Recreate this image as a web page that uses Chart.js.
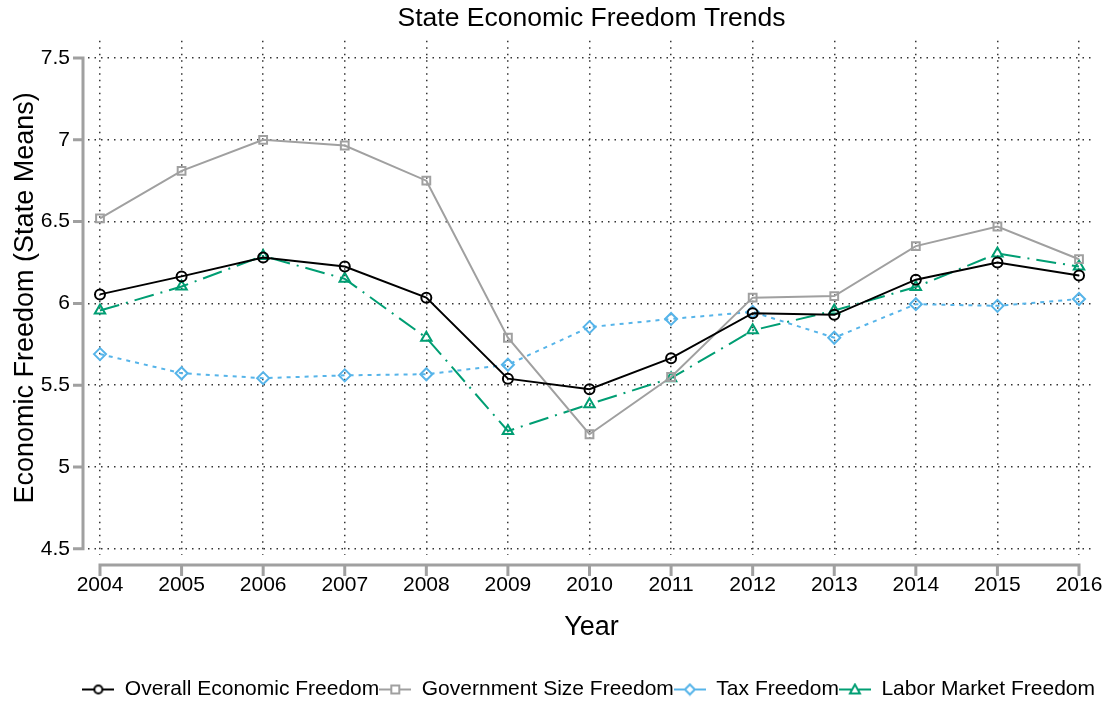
<!DOCTYPE html>
<html>
<head>
<meta charset="utf-8">
<script src="https://cdn.jsdelivr.net/npm/chart.js@4/dist/chart.umd.min.js"></script>
<style>
  html, body { margin: 0; padding: 0; background: #fff; }
  #wrap { width: 1114px; height: 704px; }
</style>
</head>
<body>
<div id="wrap"><canvas id="trend-chart" width="1114" height="704"></canvas></div>
<script>
const years = [2004, 2005, 2006, 2007, 2008, 2009, 2010, 2011, 2012, 2013, 2014, 2015, 2016];
const overall = [6.055, 6.165, 6.28, 6.225, 6.035, 5.54, 5.475, 5.665, 5.94, 5.93, 6.145, 6.25, 6.17];
const govSize = [6.52, 6.81, 7.0, 6.965, 6.75, 5.79, 5.2, 5.55, 6.035, 6.045, 6.35, 6.47, 6.27];
const tax = [5.69, 5.573, 5.543, 5.56, 5.567, 5.625, 5.855, 5.905, 5.948, 5.79, 5.995, 5.985, 6.027];
const labor = [5.956, 6.103, 6.29, 6.15, 5.79, 5.22, 5.384, 5.543, 5.835, 5.956, 6.1, 6.305, 6.225];
const yTicks = [4.5, 5, 5.5, 6, 6.5, 7, 7.5];
const seriesNames = ['Overall Economic Freedom', 'Government Size Freedom', 'Tax Freedom', 'Labor Market Freedom'];

const FONT = 'Liberation Sans, Arial, sans-serif';
const axisGray = '#a0a0a0';

function pts(vals) {
  return years.map((y, i) => ({ x: y, y: vals[i] }));
}

const styles = [
  { color: '#000000', dash: [], marker: 'circle', r: 5 },
  { color: '#a0a0a0', dash: [], marker: 'rect', r: 5.5 },
  { color: '#56b4e9', dash: [4, 5], marker: 'rectRot', r: 6 },
  { color: '#009e73', dash: [20, 7, 2, 7], marker: 'triangle', r: 6 }
];

// small line+marker pictures for the legend
function legendIcon(st) {
  const c = document.createElement('canvas');
  c.width = 32; c.height = 14;
  const g = c.getContext('2d');
  g.strokeStyle = st.color;
  g.lineWidth = 2;
  g.beginPath(); g.moveTo(0, 7); g.lineTo(32, 7); g.stroke();
  g.fillStyle = '#fff';
  g.beginPath();
  if (st.marker === 'circle') g.arc(16, 7, 4, 0, Math.PI * 2);
  else if (st.marker === 'rect') g.rect(12, 3, 8, 8);
  else if (st.marker === 'rectRot') { g.moveTo(16, 2); g.lineTo(21, 7); g.lineTo(16, 12); g.lineTo(11, 7); g.closePath(); }
  else { g.moveTo(16, 2); g.lineTo(21, 11); g.lineTo(11, 11); g.closePath(); }
  g.fill(); g.stroke();
  return c;
}
const icons = styles.map(legendIcon);

const datasets = [overall, govSize, tax, labor].map((vals, i) => ({
  label: seriesNames[i],
  data: pts(vals),
  borderColor: styles[i].color,
  backgroundColor: '#ffffff',
  borderWidth: 2,
  borderDash: styles[i].dash,
  pointStyle: styles[i].marker,
  pointRadius: styles[i].r,
  pointBorderWidth: 2,
  pointBackgroundColor: 'rgba(255,255,255,0)',
  pointBorderColor: styles[i].color,
  tension: 0
}));

// Stata style axes, drawn a little away from the plot area
const offsetAxes = {
  id: 'offsetAxes',
  afterDraw(chart) {
    const { ctx, chartArea, scales: { x, y } } = chart;
    ctx.save();
    ctx.strokeStyle = axisGray;
    ctx.lineWidth = 3;
    ctx.lineCap = 'butt';
    const ax = chartArea.left - 5;
    ctx.beginPath();
    ctx.moveTo(ax, y.getPixelForValue(4.5));
    ctx.lineTo(ax, y.getPixelForValue(7.5));
    yTicks.forEach(v => {
      const py = y.getPixelForValue(v);
      ctx.moveTo(ax + 1.5, py);
      ctx.lineTo(ax - 10, py);
    });
    ctx.stroke();
    const ay = chartArea.bottom + 10;
    ctx.beginPath();
    ctx.moveTo(x.getPixelForValue(years[0]), ay);
    ctx.lineTo(x.getPixelForValue(years[years.length - 1]), ay);
    years.forEach(v => {
      const px = x.getPixelForValue(v);
      ctx.moveTo(px, ay - 1.5);
      ctx.lineTo(px, ay + 11);
    });
    ctx.stroke();
    ctx.restore();
  }
};

const gridOpts = { color: '#333', lineWidth: 1.5, drawTicks: false };
const borderOpts = { display: false, dash: [1.5, 5] };

const ctx = document.getElementById('trend-chart').getContext('2d');
const trendChart = new Chart(ctx, {
  type: 'line',
  data: { datasets: datasets },
  options: {
    responsive: false,
    animation: false,
    layout: { padding: { left: 4, right: 19, top: 0, bottom: -6 } },
    plugins: {
      title: {
        display: true,
        fullSize: false,
        text: 'State Economic Freedom Trends',
        color: '#000',
        font: { family: FONT, size: 26.5, weight: 'normal' },
        padding: { top: 3, bottom: 6 }
      },
      legend: {
        position: 'bottom',
        align: 'end',
        labels: {
          color: '#000',
          font: { family: FONT, size: 21 },
          usePointStyle: true,
          pointStyleWidth: 32,
          boxHeight: 14,
          padding: 0,
          generateLabels(chart) {
            const items = Chart.defaults.plugins.legend.labels.generateLabels(chart);
            items.forEach((it, i) => { it.pointStyle = icons[i]; });
            return items;
          }
        }
      },
      tooltip: { enabled: false }
    },
    scales: {
      x: {
        type: 'linear',
        min: 2003.853,
        max: 2016.196,
        afterBuildTicks(scale) { scale.ticks = years.map(v => ({ value: v })); },
        afterFit(scale) {
          scale.height = 124;
          scale.paddingLeft = 0;
          scale.paddingRight = 0;
        },
        grid: gridOpts,
        border: borderOpts,
        ticks: {
          color: '#000',
          font: { family: FONT, size: 21 },
          padding: 18,
          maxRotation: 0,
          callback: v => String(v)
        },
        title: {
          display: true,
          text: 'Year',
          color: '#000',
          font: { family: FONT, size: 27 },
          padding: { top: 0, bottom: 35 }
        }
      },
      y: {
        type: 'linear',
        min: 4.462,
        max: 7.605,
        afterBuildTicks(scale) { scale.ticks = yTicks.map(v => ({ value: v })); },
        afterFit(scale) { scale.width = 84; },
        grid: gridOpts,
        border: borderOpts,
        ticks: {
          color: '#000',
          font: { family: FONT, size: 21 },
          padding: 18,
          callback: v => String(v)
        },
        title: {
          display: true,
          text: 'Economic Freedom (State Means)',
          color: '#000',
          font: { family: FONT, size: 27 },
          padding: { top: 5, bottom: 0 }
        }
      }
    }
  },
  plugins: [offsetAxes]
});
</script>
</body>
</html>
